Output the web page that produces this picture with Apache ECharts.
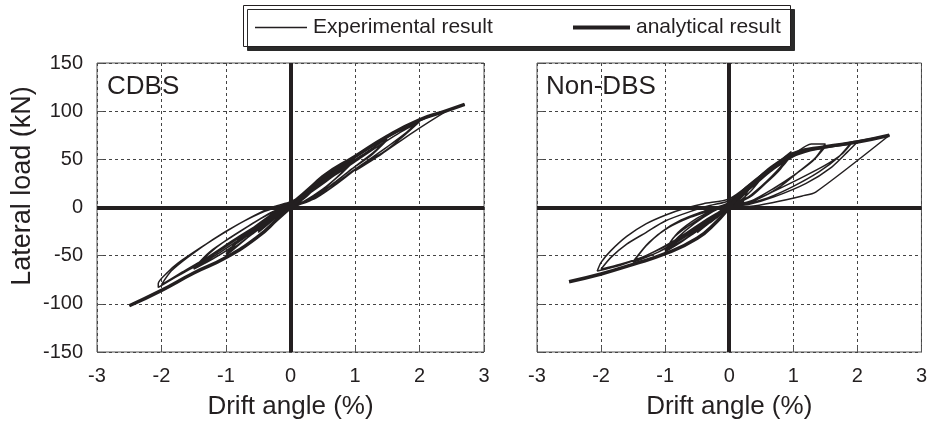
<!DOCTYPE html>
<html>
<head>
<meta charset="utf-8">
<script src="https://cdn.jsdelivr.net/npm/echarts@6/dist/echarts.min.js"></script>
<style>
html,body{margin:0;padding:0;background:#fff;}
#chart{width:930px;height:428px;}
</style>
</head>
<body>
<div id="chart"></div>
<script>
// ---- Data (drift angle %, lateral load kN) ----
const xTicks = [-3, -2, -1, 0, 1, 2, 3];
const yTicks = [-150, -100, -50, 0, 50, 100, 150];
const panelLabels = ['CDBS', 'Non-DBS'];
const legendNames = ['Experimental result', 'analytical result'];

const cdbsExperimental = [
  [0,0],
  [0.1,6],[0.2,12],[0.1,5],[-0.1,-5],[-0.2,-9],[-0.1,-3],[0,2],
  [0.12,7],[0.25,14],[0.15,8],[0.05,2],[-0.1,-4],[-0.25,-12],[-0.15,-6],[0,1],
  [0.25,15],[0.5,30],[0.35,20],[0.15,7],[0,0],[-0.25,-12],[-0.5,-26],[-0.35,-15],[-0.15,-4],[0,2],
  [0.2,14],[0.5,31],[0.35,18],[0.15,6],[0,1],[-0.25,-11],[-0.5,-25],[-0.3,-11],[-0.1,-2],[0,3],
  [0.3,19],[0.6,35],[1.0,51],[0.85,40],[0.6,24],[0.35,11],[0.1,3],[-0.2,-7],[-0.5,-22],[-0.75,-36],[-1.0,-50],[-0.85,-38],[-0.6,-24],[-0.3,-8],[0,3],
  [0.3,18],[0.65,36],[1.0,49],[0.8,36],[0.5,19],[0.2,6],[-0.2,-8],[-0.6,-28],[-1.0,-48],[-0.8,-33],[-0.5,-17],[-0.2,-3],[0,4],
  [0.3,17],[0.7,37],[1.1,54],[1.5,72],[1.3,58],[1.05,45],[0.7,27],[0.4,12],[0.1,2],[-0.25,-9],[-0.6,-26],[-1.0,-45],[-1.3,-57],[-1.5,-64],[-1.3,-50],[-1.0,-34],[-0.6,-17],[-0.3,-5],[0,4],
  [0.3,15],[0.7,34],[1.1,52],[1.5,70],[1.25,54],[0.95,40],[0.6,21],[0.3,8],[0,1],[-0.3,-10],[-0.7,-29],[-1.1,-47],[-1.5,-63],[-1.25,-46],[-0.9,-30],[-0.5,-13],[-0.2,-2],[0,5],
  [0.2,14],[0.5,32],[1.0,53],[1.6,77],[2.0,91],[1.8,78],[1.5,63],[1.2,49],[0.9,35],[0.6,19],[0.3,7],[0,0],[-0.3,-9],[-0.7,-27],[-1.1,-45],[-1.5,-62],[-1.8,-73],[-2.05,-83],
  [-2.05,-79],[-1.9,-67],[-1.75,-58],[-1.4,-42],[-1.0,-25],[-0.55,-8],[-0.25,1],[0,6],
  [0.35,19],[0.8,40],[1.3,61],[1.7,78],[2.0,89],[1.75,74],[1.45,58],[1.1,44],[0.75,26],[0.4,10],[0.1,2],[-0.3,-10],[-0.8,-30],[-1.3,-52],[-1.7,-68],[-2.0,-80],
  [-1.85,-66],[-1.6,-52],[-1.2,-33],[-0.8,-17],[-0.4,-4],[0,5],
  [0.4,27],[0.9,48],[1.4,69],[2.0,90],[2.3,98],[2.7,107],[2.45,101],[1.9,78],[1.4,55],[1.0,38]
];
const cdbsAnalytical = [
  [-2.5,-102],[-2.0,-86],[-1.5,-68],[-1.0,-52],[-0.5,-30],[-0.2,-12],[0,0],
  [0.2,12],[0.5,32],[1.0,53],[1.5,74],[2.0,91],[2.4,100],[2.7,107]
];

const nonDbsExperimental = [
  [0,0],
  [0.1,8],[0.2,14],[0.1,6],[-0.1,-6],[-0.2,-11],[-0.1,-4],[0,2],
  [0.15,10],[0.3,18],[0.15,8],[0,2],[-0.15,-8],[-0.3,-16],[-0.15,-7],[0,1],
  [0.25,16],[0.5,30],[0.35,18],[0.15,6],[0,1],[-0.25,-13],[-0.5,-26],[-0.35,-14],[-0.15,-4],[0,3],
  [0.25,17],[0.55,35],[0.8,48],[1.0,57],[0.85,44],[0.6,27],[0.35,12],[0.1,3],[-0.2,-9],[-0.5,-24],[-0.75,-36],[-1.0,-46],[-0.8,-31],[-0.55,-17],[-0.25,-4],[0,4],
  [0.3,20],[0.6,38],[0.97,58],[0.8,42],[0.5,22],[0.2,6],[-0.2,-10],[-0.6,-29],[-1.0,-45],[-0.85,-30],[-0.5,-13],[-0.2,-2],[0,5],
  [0.3,22],[0.6,40],[0.95,56],[0.8,40],[0.55,24],[0.3,11],[0,2],[-0.3,-13],[-0.7,-33],[-1.0,-44],[-0.8,-26],[-0.5,-11],[-0.2,-1],[0,5],
  [0.3,20],[0.7,42],[1.0,55],[1.28,66],[1.5,66],[1.35,52],[1.1,38],[0.8,22],[0.45,9],[0.1,2],[-0.3,-11],[-0.7,-30],[-1.1,-46],[-1.5,-57],[-1.3,-40],[-1.05,-25],[-0.75,-13],[-0.4,-4],[0,5],
  [0.3,19],[0.7,40],[1.0,53],[1.5,63],[1.3,48],[1.0,33],[0.7,20],[0.35,7],[0,1],[-0.3,-12],[-0.7,-31],[-1.1,-46],[-1.5,-56],[-1.25,-36],[-0.95,-21],[-0.6,-10],[-0.25,-2],[0,5],
  [0.3,18],[0.7,40],[1.1,56],[1.5,63],[2.0,68],[1.85,58],[1.6,42],[1.2,25],[0.7,11],[0.3,3],[0,0],[-0.3,-10],[-0.8,-32],[-1.3,-50],[-1.7,-60],[-2.06,-66],
  [-2.0,-57],[-1.85,-45],[-1.6,-30],[-1.3,-17],[-1.0,-8],[-0.7,-1],[-0.4,4],[0,9],
  [0.4,28],[0.8,48],[1.3,60],[1.9,67],[1.7,52],[1.4,37],[1.0,22],[0.6,10],[0.2,2],
  [0.3,18],[0.7,40],[1.1,56],[1.5,62],[1.9,66],[1.75,55],[1.5,44],[1.1,30],[0.7,17],[0.35,6],[0,0],[-0.3,-11],[-0.8,-33],[-1.3,-50],[-1.7,-59],[-2.0,-64],
  [-1.85,-52],[-1.6,-38],[-1.3,-26],[-1.0,-14],[-0.6,-4],[-0.3,2],[0,7],
  [0.2,17],[0.45,30],[0.7,42],[1.05,56],[1.5,63],[2.0,69],[2.5,75],[1.35,16],[1.14,12],[0.67,5],[0.31,1],[0,0]
];
const nonDbsAnalytical = [
  [-2.5,-77],[-2.0,-69],[-1.5,-59],[-1.0,-48],[-0.5,-32],[-0.2,-15],[0,0],
  [0.2,16],[0.45,30],[0.7,42],[1.0,56],[1.5,63],[2.0,68],[2.5,75]
];

// ---- Styling ----
const INK = '#231f20';
const FONT = '"Liberation Sans", Arial, sans-serif';

function xAxisCfg(gridIndex) {
  return {
    type: 'value', gridIndex, min: xTicks[0], max: xTicks[xTicks.length - 1], interval: 1,
    name: 'Drift angle (%)', nameLocation: 'middle', nameGap: 42,
    nameTextStyle: { fontFamily: FONT, fontSize: 26, color: INK },
    axisLine: { show: false, onZero: false },
    axisTick: { show: true, inside: true, length: 6, lineStyle: { color: '#555', width: 1 } },
    axisLabel: { fontFamily: FONT, fontSize: 20, color: INK, margin: 14 },
    splitLine: { show: true, lineStyle: { color: '#444', width: 1, type: [3, 3] } }
  };
}
function yAxisCfg(gridIndex, showLabels) {
  return {
    type: 'value', gridIndex, min: yTicks[0], max: yTicks[yTicks.length - 1], interval: 50,
    axisLine: { show: false, onZero: false },
    axisTick: { show: true, inside: true, length: 6, lineStyle: { color: '#555', width: 1 } },
    axisLabel: { show: showLabels, fontFamily: FONT, fontSize: 20, color: INK, margin: 14 },
    splitLine: { show: true, lineStyle: { color: '#444', width: 1, type: [3, 3] } }
  };
}
function zeroLines() {
  return {
    silent: true, symbol: ['none', 'none'], animation: false,
    label: { show: false },
    lineStyle: { color: INK, width: 4, type: 'solid' },
    data: [{ yAxis: 0 }, { xAxis: 0 }]
  };
}
function legendCfg(name, left, w, h) {
  return {
    data: [name], left: left, top: 17, padding: 0,
    icon: 'rect', itemWidth: w, itemHeight: h, itemGap: 0,
    textStyle: { fontFamily: FONT, fontSize: 21, color: INK, padding: [0, 0, 0, 1] },
    itemStyle: { color: INK, borderWidth: 0 },
    selectedMode: false
  };
}

const chart = echarts.init(document.getElementById('chart'), null, { renderer: 'canvas' });
chart.setOption({
  animation: false,
  backgroundColor: '#fff',
  legend: [
    legendCfg(legendNames[0], 255, 52, 1.4),
    legendCfg(legendNames[1], 573, 57, 4)
  ],
  grid: [
    { left: 97, top: 63, width: 387, height: 289, show: true, borderColor: '#555', borderWidth: 1, backgroundColor: 'transparent' },
    { left: 537, top: 63, width: 386, height: 289, show: true, borderColor: '#555', borderWidth: 1, backgroundColor: 'transparent' }
  ],
  xAxis: [xAxisCfg(0), xAxisCfg(1)],
  yAxis: [yAxisCfg(0, true), yAxisCfg(1, false)],
  graphic: [
    { type: 'rect', z: -1, silent: true,
      shape: { x: 243.5, y: 5.5, width: 547, height: 41 },
      style: { fill: '#fff', stroke: INK, lineWidth: 1, shadowColor: '#2a2a2a', shadowBlur: 0, shadowOffsetX: 4, shadowOffsetY: 4 } },
    { type: 'text', x: 23, y: 186, rotation: Math.PI / 2,
      style: { text: 'Lateral load (kN)', font: '27px ' + FONT, fill: INK, textAlign: 'center', textVerticalAlign: 'middle' } },
    { type: 'text', x: 107, y: 87,
      style: { text: panelLabels[0], font: '26px ' + FONT, fill: INK, textAlign: 'left', textVerticalAlign: 'middle' } },
    { type: 'text', x: 546, y: 87,
      style: { text: panelLabels[1], font: '26px ' + FONT, fill: INK, textAlign: 'left', textVerticalAlign: 'middle' } }
  ],
  series: [
    { name: legendNames[0], type: 'line', xAxisIndex: 0, yAxisIndex: 0, data: cdbsExperimental,
      symbol: 'none', smooth: 0.25, lineStyle: { color: INK, width: 1.5 }, itemStyle: { color: INK }, z: 3 },
    { name: legendNames[1], type: 'line', xAxisIndex: 0, yAxisIndex: 0, data: cdbsAnalytical,
      symbol: 'none', smooth: true, lineStyle: { color: INK, width: 3.5 }, itemStyle: { color: INK }, z: 4,
      markLine: zeroLines() },
    { name: legendNames[0], type: 'line', xAxisIndex: 1, yAxisIndex: 1, data: nonDbsExperimental,
      symbol: 'none', smooth: 0.25, lineStyle: { color: INK, width: 1.5 }, itemStyle: { color: INK }, z: 3 },
    { name: legendNames[1], type: 'line', xAxisIndex: 1, yAxisIndex: 1, data: nonDbsAnalytical,
      symbol: 'none', smooth: true, lineStyle: { color: INK, width: 3.5 }, itemStyle: { color: INK }, z: 4,
      markLine: zeroLines() }
  ]
});
</script>
</body>
</html>
